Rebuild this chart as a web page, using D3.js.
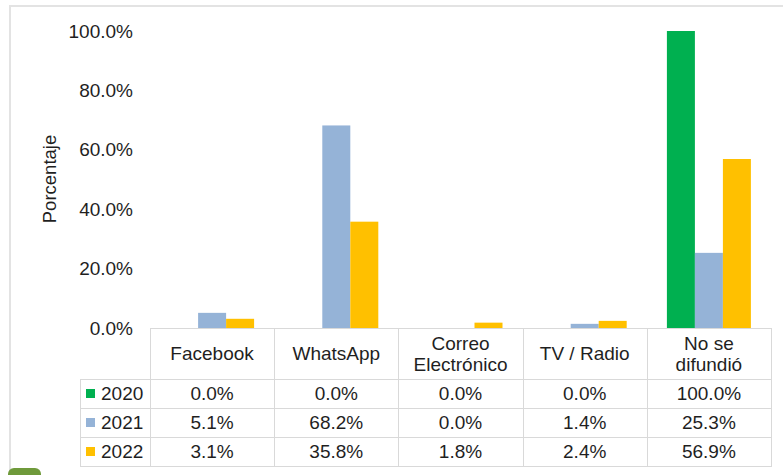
<!DOCTYPE html>
<html>
<head>
<meta charset="utf-8">
<script src="https://cdn.jsdelivr.net/npm/d3@7"></script>
<style>
  html, body { margin: 0; padding: 0; background: #fff; }
  svg { display: block; }
  text { font-family: "Liberation Sans", Arial, Helvetica, sans-serif; fill: #1f1f1f; }
</style>
</head>
<body>
<svg id="chart" width="783" height="475"></svg>
<script>
// ---- data ----
const categories = ["Facebook", "WhatsApp", "Correo\nElectrónico", "TV / Radio", "No se\ndifundió"];
const seriesNames = ["2020", "2021", "2022"];
const values2020 = [0.0, 0.0, 0.0, 0.0, 100.0];
const values2021 = [5.1, 68.2, 0.0, 1.4, 25.3];
const values2022 = [3.1, 35.8, 1.8, 2.4, 56.9];
const seriesColors = ["#00B050", "#95B3D7", "#FFC000"];
const yTicks = [0, 20, 40, 60, 80, 100];
const yTitle = "Porcentaje";

const series = [values2020, values2021, values2022];

const svg = d3.select("#chart");

// outer frame
svg.append("path")
  .attr("d", "M10,475 L10,6 L783,6")
  .attr("fill", "none").attr("stroke", "#e3e3e3").attr("stroke-width", 2);

// layout
const plotLeft = 150, plotRight = 771, plotTop = 31, plotBottom = 328;
const legendLeft = 80;
const rowLines = [328, 379, 408, 437, 466];

const x = d3.scaleBand().domain(d3.range(categories.length)).range([plotLeft, plotRight]).paddingInner(0).paddingOuter(0);
const barW = 28;
const x1 = d3.scaleBand().domain(d3.range(seriesNames.length)).range([0, barW * seriesNames.length]);
const y = d3.scaleLinear().domain([0, 100]).range([plotBottom, plotTop]);

// bars
series.forEach((vals, si) => {
  svg.append("g").selectAll("rect")
    .data(vals)
    .join("rect")
    .attr("x", (d, i) => x(i) + (x.bandwidth() - barW * seriesNames.length) / 2 + x1(si))
    .attr("width", x1.bandwidth())
    .attr("y", d => y(d))
    .attr("height", d => y(0) - y(d))
    .attr("fill", seriesColors[si]);
});

// y axis tick labels
const fmt = d => d.toFixed(1) + "%";
const yAxis = d3.axisLeft(y).tickValues(yTicks).tickFormat(fmt).tickSize(0).tickPadding(0);
const gy = svg.append("g").attr("transform", "translate(133,0)").call(yAxis);
gy.select(".domain").remove();
gy.selectAll("text")
  .attr("font-size", "19px")
  .style("font-family", '"Liberation Sans", Arial, sans-serif')
  .attr("fill", "#1f1f1f");

// y title
svg.append("text")
  .attr("transform", "translate(56,179) rotate(-90)")
  .attr("text-anchor", "middle")
  .attr("font-size", "18.5px")
  .text(yTitle);

// data table lines
const lineColor = "#d9d9d9";
const tg = svg.append("g").attr("stroke", lineColor).attr("stroke-width", 1).attr("shape-rendering", "crispEdges");
tg.append("line").attr("x1", plotLeft).attr("x2", plotRight).attr("y1", rowLines[0] + 0.5).attr("y2", rowLines[0] + 0.5);
rowLines.slice(1).forEach(ry => {
  tg.append("line").attr("x1", legendLeft).attr("x2", plotRight).attr("y1", ry + 0.5).attr("y2", ry + 0.5);
});
d3.range(categories.length + 1).forEach(i => {
  const vx = i < categories.length ? x(i) : plotRight;
  tg.append("line").attr("x1", vx + 0.5).attr("x2", vx + 0.5).attr("y1", rowLines[0]).attr("y2", rowLines[4] + 1);
});
tg.append("line").attr("x1", legendLeft + 0.5).attr("x2", legendLeft + 0.5).attr("y1", rowLines[1]).attr("y2", rowLines[4] + 1);

// header labels
const fs = "19px";
categories.forEach((c, i) => {
  const lines = c.split("\n");
  const cx = x(i) + x.bandwidth() / 2;
  const cy = (rowLines[0] + rowLines[1]) / 2;
  const lh = 21;
  lines.forEach((ln, li) => {
    svg.append("text")
      .attr("x", cx)
      .attr("y", cy + (li - (lines.length - 1) / 2) * lh)
      .attr("dy", "0.36em")
      .attr("text-anchor", "middle")
      .attr("font-size", fs)
      .text(ln);
  });
});

// rows
series.forEach((vals, si) => {
  const cy = (rowLines[si + 1] + rowLines[si + 2]) / 2;
  svg.append("rect")
    .attr("x", 86).attr("y", cy - 4.5).attr("width", 9).attr("height", 9)
    .attr("fill", seriesColors[si]);
  svg.append("text")
    .attr("x", 101).attr("y", cy).attr("dy", "0.36em")
    .attr("font-size", fs)
    .text(seriesNames[si]);
  vals.forEach((v, i) => {
    svg.append("text")
      .attr("x", x(i) + x.bandwidth() / 2)
      .attr("y", cy).attr("dy", "0.36em")
      .attr("text-anchor", "middle")
      .attr("font-size", fs)
      .text(fmt(v));
  });
});

// decorative element at bottom-left (partially visible)
svg.append("rect")
  .attr("x", 8).attr("y", 468).attr("width", 33).attr("height", 20).attr("rx", 6)
  .attr("fill", "#6f9a3b");
</script>
</body>
</html>
